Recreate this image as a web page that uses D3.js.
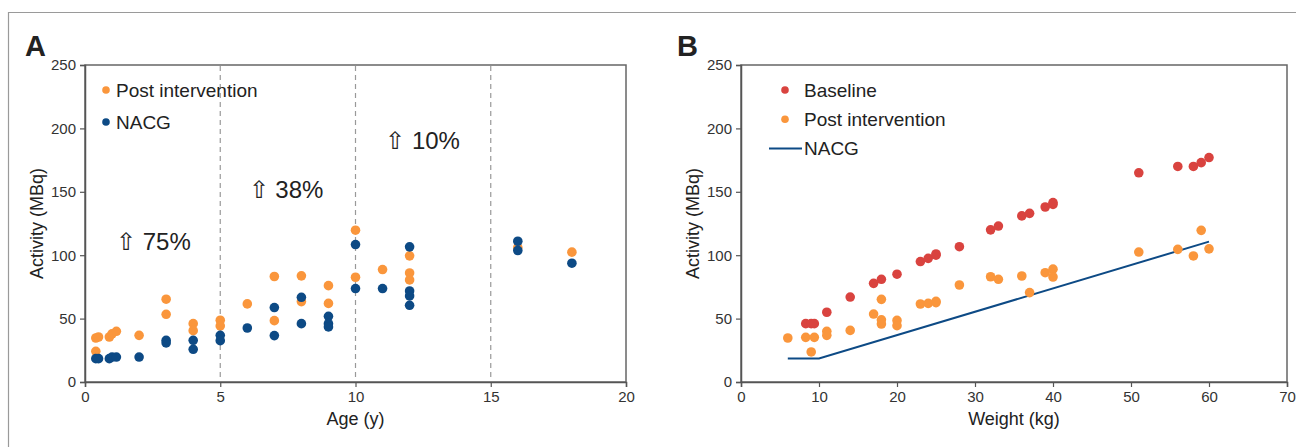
<!DOCTYPE html>
<html>
<head>
<meta charset="utf-8">
<script src="https://cdn.jsdelivr.net/npm/d3@7"></script>
<style>
  body { margin: 0; background: #fff; }
  svg text { font-family: "Liberation Sans", Arial, sans-serif; fill: #222; }
</style>
</head>
<body>
<div id="chart"></div>
<script>
// Panel A: age (y) vs activity (MBq)
const agePost = [
  [0.4, 34.7], [0.5, 35.5], [0.4, 24.2], [0.9, 35.5], [1.0, 38], [1.16, 40],
  [2, 36.8], [3, 65.3], [3, 53.4], [4, 46], [4, 40.5], [5, 48.7], [5, 44.2],
  [6, 61.6], [7, 83.2], [7, 48.4], [8, 83.7], [8, 63.4], [9, 76], [9, 62],
  [10, 119.7], [10, 82.6], [11, 88.7], [12, 99.5], [12, 86], [12, 80.5],
  [16, 106], [18, 102.4]
];
const ageNacg = [
  [0.4, 18.4], [0.5, 18.4], [0.9, 18.4], [1.0, 19.7], [1.16, 19.7], [2, 19.7],
  [3, 32.9], [3, 30.8], [4, 32.9], [4, 25.8], [5, 36.8], [5, 32.6], [6, 42.6],
  [7, 58.7], [7, 36.6], [8, 66.8], [8, 46], [9, 51.8], [9, 46], [9, 43.4],
  [10, 108.4], [10, 73.7], [11, 73.7], [12, 106.6], [12, 71.8], [12, 67.9],
  [12, 60.5], [16, 111], [16, 103.7], [18, 93.7]
];
const ageBands = [5, 10, 15];
const bandLabels = [
  { x: 1.15, y: 104, text: "⇧ 75%" },
  { x: 6.05, y: 145, text: "⇧ 38%" },
  { x: 11.1, y: 184, text: "⇧ 10%" }
];

// Panel B: weight (kg) vs activity (MBq)
const wBase = [
  [8.3, 46], [9, 46], [9.4, 46], [11, 55], [14, 67], [17, 77.8], [18, 81],
  [20, 85], [23, 95], [24, 97.5], [25, 100], [25, 101], [28, 106.7], [32, 120],
  [33, 123], [36, 131], [37, 133], [39, 138], [40, 140], [40, 141.5], [51, 165],
  [56, 170], [58, 170], [59, 173], [60, 177]
];
const wPost = [
  [6, 34.7], [8.3, 35.2], [9.4, 35.2], [9, 23.7], [11, 40], [11, 36.8], [14, 40.7],
  [17, 53.6], [18, 65.2], [18, 49], [18, 45.7], [20, 48.6], [20, 44.4], [23, 61.5],
  [24, 62], [25, 62.6], [25, 63.6], [28, 76.5], [32, 83], [33, 81], [36, 83.6],
  [37, 70.5], [39, 86.2], [40, 89], [40, 82.8], [51, 102.5], [56, 104.6],
  [58, 99.4], [59, 119.6], [60, 105]
];
const wNacg = [[6, 18.5], [10, 18.5], [60, 110.7]];

const yTicks = [0, 50, 100, 150, 200, 250];
const ageTicks = [0, 5, 10, 15, 20];
const wTicks = [0, 10, 20, 30, 40, 50, 60, 70];

const ORANGE = "#fa963c";
const BLUE = "#0d4a85";
const RED = "#d9433f";

const svg = d3.select("#chart").append("svg")
  .attr("width", 1296).attr("height", 447);

// outer frame
svg.append("path")
  .attr("d", "M8.5,447 V12.5 H1296")
  .attr("fill", "none").attr("stroke", "#9a9a9a").attr("stroke-width", 1.2);

function panel(cfg) {
  const g = svg.append("g");
  const x = d3.scaleLinear().domain(cfg.xDomain).range([cfg.left, cfg.right]);
  const y = d3.scaleLinear().domain([0, 250]).range([382, 65]);

  // frame box
  g.append("rect")
    .attr("x", cfg.left).attr("y", 65)
    .attr("width", cfg.right - cfg.left).attr("height", 382 - 65)
    .attr("fill", "none").attr("stroke", "#666").attr("stroke-width", 1.5);

  const yAxis = g.append("g").attr("transform", `translate(${cfg.left},0)`)
    .call(d3.axisLeft(y).tickValues(yTicks).tickSize(5).tickPadding(4));
  const xAxis = g.append("g").attr("transform", "translate(0,382)")
    .call(d3.axisBottom(x).tickValues(cfg.xTicks).tickSize(5).tickPadding(4));
  [yAxis, xAxis].forEach(a => {
    a.select(".domain").attr("stroke", "#555").attr("stroke-width", 1.5);
    a.selectAll(".tick line").attr("stroke", "#555").attr("stroke-width", 1.2);
    a.selectAll(".tick text").attr("font-size", 15).style("fill", "#333")
      .attr("font-family", "Liberation Sans, Arial, sans-serif");
  });

  g.append("text")
    .attr("transform", `translate(${cfg.left - 42},${(65 + 382) / 2}) rotate(-90)`)
    .attr("text-anchor", "middle").attr("font-size", 18)
    .text("Activity (MBq)");
  g.append("text")
    .attr("x", (cfg.left + cfg.right) / 2).attr("y", 425)
    .attr("text-anchor", "middle").attr("font-size", 18)
    .text(cfg.xLabel);

  g.append("text")
    .attr("x", cfg.letterX).attr("y", 56)
    .attr("font-size", 29).attr("font-weight", "bold")
    .text(cfg.letter);

  return { g, x, y };
}

function dots(p, data, color) {
  p.g.append("g").selectAll("circle").data(data).join("circle")
    .attr("cx", d => p.x(d[0])).attr("cy", d => p.y(d[1]))
    .attr("r", 4.8).attr("fill", color);
}

// ---- Panel A
const A = panel({ left: 85, right: 626, xDomain: [0, 20], xTicks: ageTicks,
  xLabel: "Age (y)", letter: "A", letterX: 25 });

A.g.append("g").selectAll("line").data(ageBands).join("line")
  .attr("x1", d => A.x(d)).attr("x2", d => A.x(d))
  .attr("y1", 66).attr("y2", 381)
  .attr("stroke", "#999").attr("stroke-width", 1.2)
  .attr("stroke-dasharray", "5,4");

A.g.append("g").selectAll("text").data(bandLabels).join("text")
  .attr("x", d => A.x(d.x)).attr("y", d => A.y(d.y))
  .attr("font-size", 24).text(d => d.text);

dots(A, agePost, ORANGE);
dots(A, ageNacg, BLUE);

const legA = [["Post intervention", ORANGE], ["NACG", BLUE]];
legA.forEach((l, i) => {
  const yy = 90 + i * 32;
  A.g.append("circle").attr("cx", 106).attr("cy", yy).attr("r", 3.8).attr("fill", l[1]);
  A.g.append("text").attr("x", 116).attr("y", yy + 6.5).attr("font-size", 19).text(l[0]);
});

// ---- Panel B
const B = panel({ left: 741, right: 1287, xDomain: [0, 70], xTicks: wTicks,
  xLabel: "Weight (kg)", letter: "B", letterX: 677 });

B.g.append("path").datum(wNacg)
  .attr("d", d3.line().x(d => B.x(d[0])).y(d => B.y(d[1])))
  .attr("fill", "none").attr("stroke", BLUE).attr("stroke-width", 2);

dots(B, wBase, RED);
dots(B, wPost, ORANGE);

const legB = [["Baseline", RED, "dot"], ["Post intervention", ORANGE, "dot"], ["NACG", BLUE, "line"]];
legB.forEach((l, i) => {
  const yy = 90 + i * 29.3;
  if (l[2] === "dot") {
    B.g.append("circle").attr("cx", 785).attr("cy", yy).attr("r", 3.8).attr("fill", l[1]);
  } else {
    B.g.append("line").attr("x1", 769).attr("x2", 802).attr("y1", yy).attr("y2", yy)
      .attr("stroke", l[1]).attr("stroke-width", 2);
  }
  B.g.append("text").attr("x", 804).attr("y", yy + 6.5).attr("font-size", 19).text(l[0]);
});
</script>
</body>
</html>
